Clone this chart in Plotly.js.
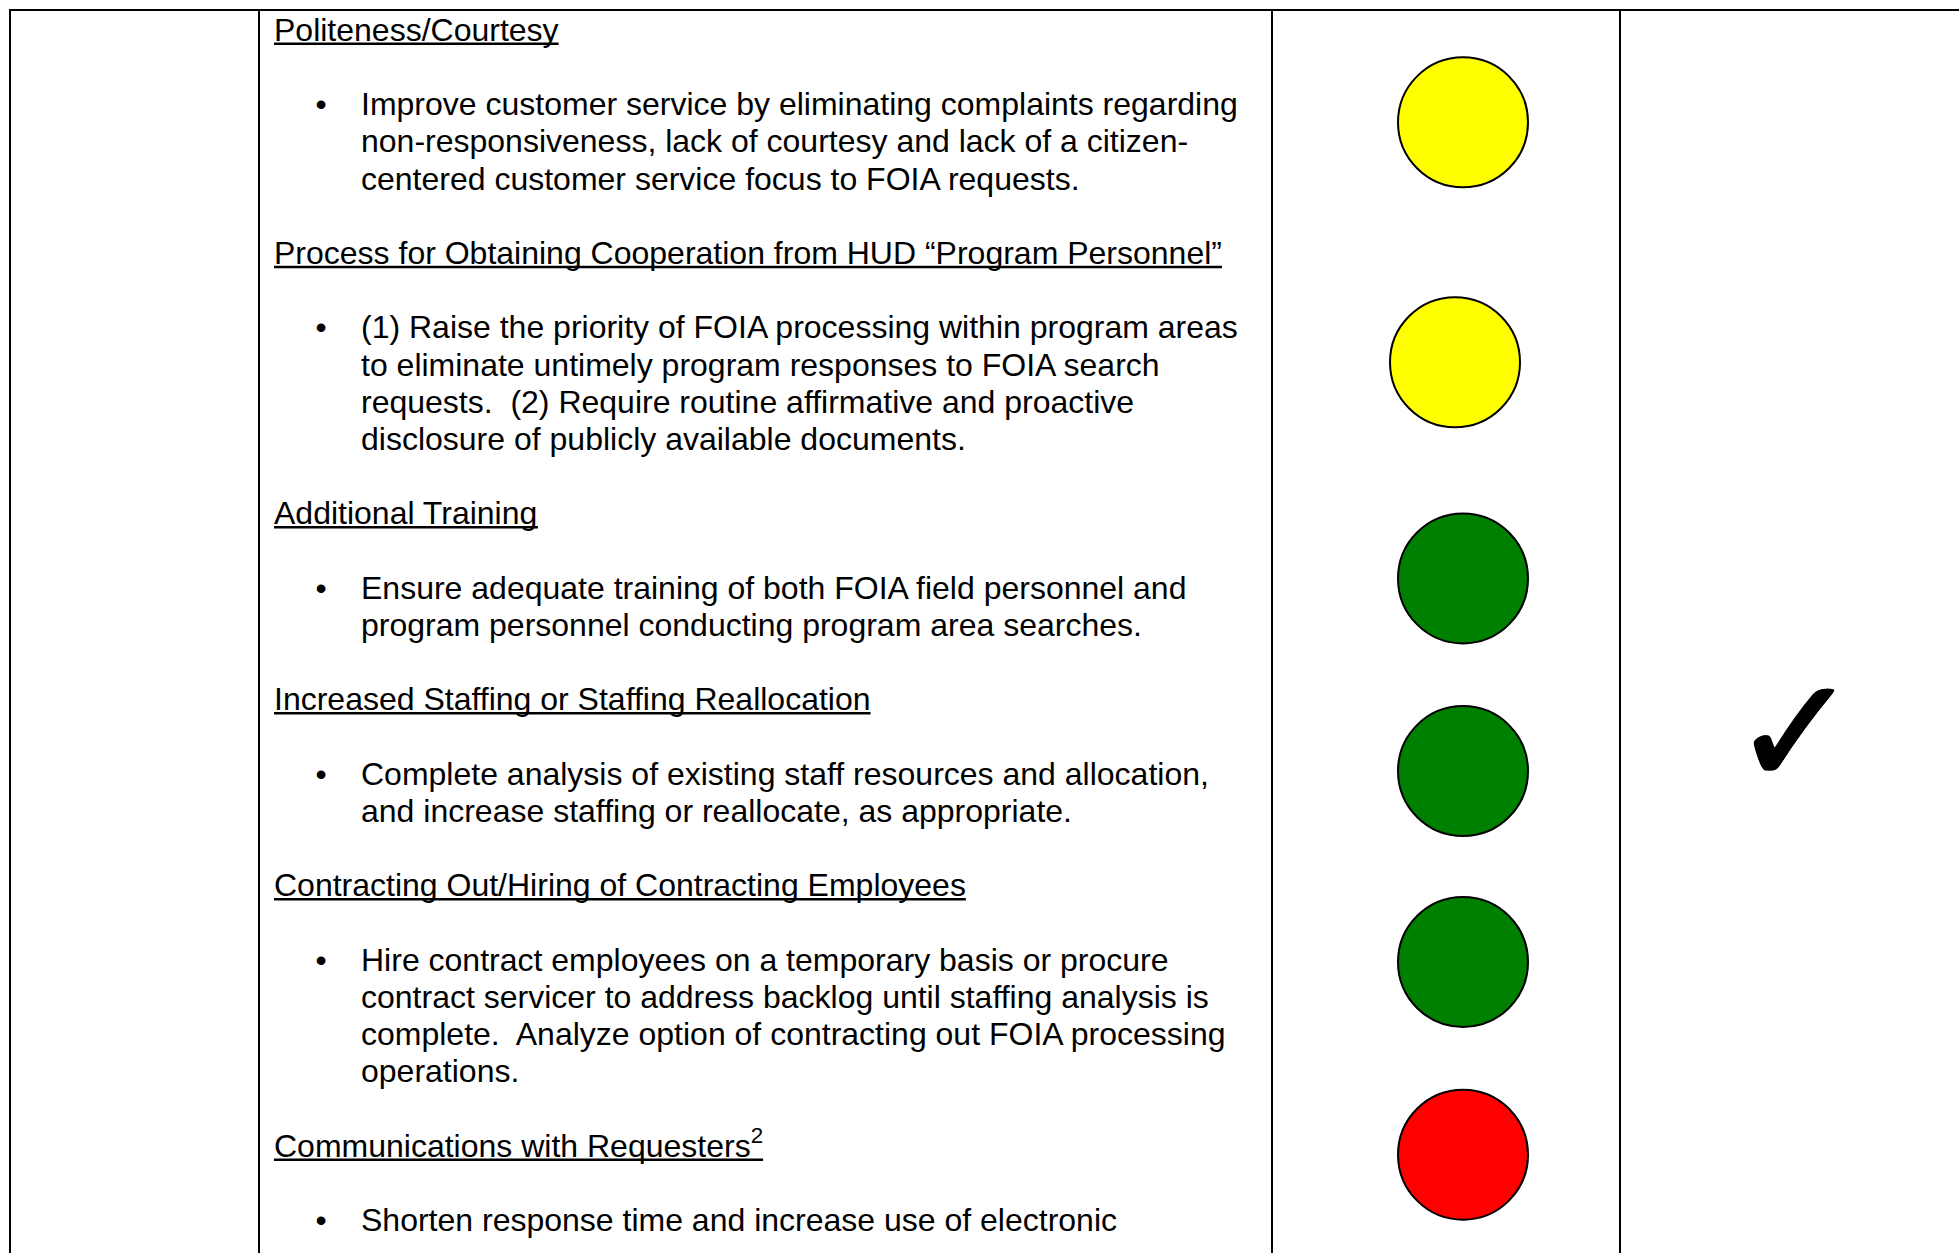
<!DOCTYPE html>
<html>
<head>
<meta charset="utf-8">
<script src="https://cdn.plot.ly/plotly-3.0.1.min.js"></script>
<style>html,body{margin:0;padding:0;background:#fff;}#chart{width:1959px;height:1253px;}</style>
</head>
<body>
<div id="chart"></div>
<script>
// ---- data ----
const headings = [
  "Politeness/Courtesy",
  "Process for Obtaining Cooperation from HUD \u201cProgram Personnel\u201d",
  "Additional Training",
  "Increased Staffing or Staffing Reallocation",
  "Contracting Out/Hiring of Contracting Employees",
  "Communications with Requesters"
];
const headingNotes = ["", "", "", "", "", "2"];
const bulletLines = [
  ["Improve customer service by eliminating complaints regarding",
   "non-responsiveness, lack of courtesy and lack of a citizen-",
   "centered customer service focus to FOIA requests."],
  ["(1) Raise the priority of FOIA processing within program areas",
   "to eliminate untimely program responses to FOIA search",
   "requests.  (2) Require routine affirmative and proactive",
   "disclosure of publicly available documents."],
  ["Ensure adequate training of both FOIA field personnel and",
   "program personnel conducting program area searches."],
  ["Complete analysis of existing staff resources and allocation,",
   "and increase staffing or reallocate, as appropriate."],
  ["Hire contract employees on a temporary basis or procure",
   "contract servicer to address backlog until staffing analysis is",
   "complete.  Analyze option of contracting out FOIA processing",
   "operations."],
  ["Shorten response time and increase use of electronic"]
];
const statusColors = ["#FFFF00", "#FFFF00", "#008000", "#008000", "#008000", "#FF0000"];
const statusLine = [2.41, 8.86, 14.67, 19.85, 24.98, 30.16];   // vertical position, in text lines
const statusX = [1463, 1455, 1463, 1463, 1463, 1463];
const checkMark = {symbol: "\u2713", x: 1795, line: 19.15};

// ---- layout constants (pixels) ----
const W = 1959, H = 1253;
const LINE0 = 32.7, LINEH = 37.2;
const colX = [10, 259, 1272, 1620];
const topY = 10;
const headX = 274, bulletX = 321, textX = 361;
const FS = 32;
const FONT = "Liberation Sans, Arial, sans-serif";

// text width measurement for underlines
const ctx = document.createElement("canvas").getContext("2d");
function textWidth(s, size) { ctx.font = size + "px 'Liberation Sans', Arial, sans-serif"; return ctx.measureText(s).width; }

// build text rows on a line grid
const hx = [], hy = [], ht = [];
const bx = [], by = [];
const tx = [], ty = [], tt = [];
const underlines = [];
let line = 0;
headings.forEach((h, i) => {
  const note = headingNotes[i];
  hx.push(headX); hy.push(line); ht.push(h + (note ? "<sup>" + note + "</sup>" : ""));
  const w = textWidth(h, FS) + (note ? textWidth(note, FS * 0.7) : 0);
  underlines.push({x0: headX, x1: headX + w, y: line});
  bx.push(bulletX); by.push(line + 2);
  bulletLines[i].forEach((t, k) => {
    tx.push(textX); ty.push(line + 2 + k); tt.push(t);
  });
  line += 2 + bulletLines[i].length + 1;
});

const toLine = px => (px - LINE0) / LINEH;
const ulOffset = 11 / LINEH;   // underline sits just below the baseline

const traces = [
  {type: "scatter", mode: "text", x: hx, y: hy, text: ht, textposition: "middle right",
   textfont: {family: FONT, size: FS, color: "#000"}, hoverinfo: "skip", showlegend: false, cliponaxis: false},
  {type: "scatter", mode: "text", x: bx, y: by, text: bx.map(() => "\u2022"), textposition: "middle center",
   textfont: {family: FONT, size: FS, color: "#000"}, hoverinfo: "skip", showlegend: false, cliponaxis: false},
  {type: "scatter", mode: "text", x: tx, y: ty, text: tt, textposition: "middle right",
   textfont: {family: FONT, size: FS, color: "#000"}, hoverinfo: "skip", showlegend: false, cliponaxis: false},
  {type: "scatter", mode: "markers", x: statusX, y: statusLine,
   marker: {size: 130, color: statusColors, line: {color: "#000", width: 2}},
   hoverinfo: "skip", showlegend: false, cliponaxis: false},
  {type: "scatter", mode: "text", x: [checkMark.x], y: [checkMark.line], text: [checkMark.symbol],
   textposition: "middle center",
   textfont: {family: "DejaVu Sans", size: 150, color: "#000",
              shadow: "2px 0px 0px #000, -1px 0px 0px #000, 0px 2px 0px #000, 1px 1px 0px #000"},
   hoverinfo: "skip", showlegend: false, cliponaxis: false}
];

const shapes = [];
shapes.push({type: "line", xref: "x", yref: "paper", x0: colX[0] - 1, x1: W, y0: 1 - topY / H, y1: 1 - topY / H,
             line: {color: "#000", width: 2}});
colX.forEach(x => shapes.push({type: "line", xref: "x", yref: "paper", x0: x, x1: x, y0: 0, y1: 1 - topY / H,
             line: {color: "#000", width: 2}}));
underlines.forEach(u => shapes.push({type: "line", xref: "x", yref: "y", x0: u.x0, x1: u.x1,
             y0: u.y + ulOffset, y1: u.y + ulOffset, line: {color: "#000", width: 2.5}}));

const layout = {
  width: W, height: H,
  margin: {l: 0, r: 0, t: 0, b: 0, pad: 0},
  paper_bgcolor: "#fff", plot_bgcolor: "#fff",
  xaxis: {range: [0, W], visible: false, fixedrange: true},
  yaxis: {range: [toLine(H), toLine(0)], visible: false, fixedrange: true},
  shapes: shapes,
  showlegend: false
};

Plotly.newPlot("chart", traces, layout, {staticPlot: true, displayModeBar: false});
</script>
</body>
</html>
